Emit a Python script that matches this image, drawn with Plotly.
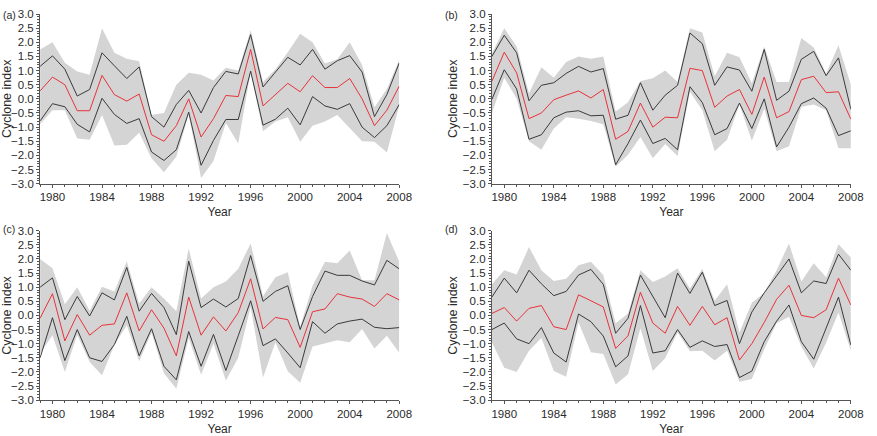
import plotly.graph_objects as go
from plotly.subplots import make_subplots

years = list(range(1979, 2009))

# panel (a)
a_mid = [0.28, 0.77, 0.5, -0.42, -0.42, 0.83, 0.15, -0.08, 0.17, -1.27,
         -1.5, -0.95, 0.0, -1.35, -0.7, 0.12, 0.08, 1.75, -0.25, 0.15,
         0.55, 0.25, 0.82, 0.4, 0.4, 0.72, 0.0, -0.95, -0.4, 0.45]
a_hi = [1.15, 1.52, 1.05, 0.1, 0.33, 1.63, 1.17, 0.72, 1.13, -0.63,
        -1.0, -0.2, 0.3, -0.5, 0.4, 0.97, 0.88, 2.27, 0.42, 0.95,
        1.47, 1.2, 1.75, 1.05, 1.35, 1.53, 0.95, -0.63, 0.15, 1.27]
a_lo = [-0.78, -0.17, -0.28, -0.9, -1.17, 0.02, -0.55, -0.87, -0.7, -1.88,
        -2.18, -1.8, -0.47, -2.35, -1.47, -0.73, -0.73, 0.98, -0.93, -0.72,
        -0.33, -0.92, 0.08, -0.25, -0.37, -0.17, -1.0, -1.37, -0.95, -0.2]
a_band_hi = [1.75, 2.0, 1.28, 0.97, 0.85, 2.5, 1.63, 1.42, 1.33, -0.57,
             -0.5, 0.5, 0.92, 0.85, 0.65, 1.1, 1.0, 2.43, 0.6, 1.05,
             1.65, 2.3, 2.0, 1.25, 1.4, 2.0, 1.2, -0.3, 0.35, 1.38]
a_band_lo = [-0.9, -0.4, -0.4, -1.4, -1.45, -0.57, -1.65, -1.62, -1.2, -2.1,
             -2.6, -2.05, -0.55, -2.8, -2.2, -0.85, -1.58, 0.95, -1.15, -0.8,
             -0.65, -1.52, -0.95, -0.8, -0.57, -1.05, -1.5, -1.52, -1.9, -0.25]

# panel (b)
b_mid = [0.62, 1.65, 0.92, -0.7, -0.5, -0.03, 0.13, 0.28, 0.03, 0.33,
         -1.43, -1.15, -0.15, -1.0, -0.65, -0.67, 1.08, 1.0, -0.3, 0.1,
         0.33, -0.55, 0.77, -0.67, -0.45, 0.68, 0.8, 0.22, 0.25, -0.72]
b_hi = [1.5, 2.25, 1.63, -0.07, 0.48, 0.57, 0.9, 1.15, 0.95, 1.07,
        -0.72, -0.58, 0.57, -0.4, 0.13, 0.48, 2.33, 1.95, 0.48, 1.13,
        1.02, 0.27, 1.75, -0.05, 0.27, 1.4, 1.68, 0.82, 1.45, -0.37]
b_lo = [-0.02, 1.03, 0.35, -1.43, -1.27, -0.67, -0.47, -0.42, -0.6, -0.58,
        -2.33, -1.58, -0.75, -1.58, -1.4, -1.8, 0.43, -0.13, -1.27, -1.05,
        -0.15, -1.05, 0.0, -1.7, -1.0, -0.17, 0.03, -0.33, -1.3, -1.13]
b_band_hi = [1.6, 2.5, 1.85, 0.2, 1.12, 0.75, 1.3, 1.5, 1.42, 1.5,
             -0.45, -0.12, 0.63, 0.73, 1.0, 0.6, 2.5, 2.35, 0.8, 1.63,
             1.47, 0.55, 1.85, 0.6, 0.6, 2.15, 1.82, 0.9, 1.9, 0.5]
b_band_lo = [-0.5, 0.75, 0.0, -1.5, -1.8, -1.05, -0.65, -0.7, -0.78, -0.9,
             -2.4, -1.98, -1.35, -2.1, -1.6, -2.02, 0.25, -0.4, -1.85, -1.45,
             -0.2, -1.48, -0.35, -1.85, -1.68, -0.28, -0.2, -0.4, -1.75, -1.75]

# panel (c)
c_mid = [-0.1, 0.77, -0.9, 0.03, -0.7, -0.35, -0.3, 0.8, -0.55, 0.2,
         -0.45, -1.43, 0.65, -0.7, -0.05, -0.55, 0.1, 1.3, -0.48, -0.07,
         -0.15, -1.13, 0.13, 0.23, 0.77, 0.65, 0.58, 0.32, 0.77, 0.55]
c_hi = [1.0, 1.33, -0.15, 0.67, -0.02, 0.8, 0.55, 1.7, 0.15, 0.78,
        0.28, -0.68, 1.92, 0.28, 0.58, 0.3, 0.6, 2.12, 0.5, 0.85,
        1.05, -0.5, 0.67, 1.57, 1.42, 1.42, 1.22, 1.08, 1.95, 1.65]
c_lo = [-1.5, -0.08, -1.6, -0.5, -1.5, -1.63, -1.03, -0.03, -1.43, -0.47,
        -1.8, -2.28, -0.57, -1.8, -0.67, -1.95, -0.72, 0.52, -1.07, -0.83,
        -1.33, -1.85, -0.22, -0.63, -0.3, -0.2, -0.13, -0.42, -0.47, -0.43]
c_band_hi = [2.0, 1.67, 0.4, 1.0, 0.17, 1.02, 0.85, 1.92, 0.42, 1.0,
             0.6, 0.15, 2.37, 0.6, 1.0, 1.2, 1.65, 2.55, 0.68, 1.35,
             1.53, -0.4, 1.05, 1.9, 1.85, 2.3, 1.25, 1.25, 2.92, 1.9]
c_band_lo = [-1.35, -0.7, -2.0, -0.68, -1.65, -2.12, -1.05, -0.35, -1.62, -0.6,
             -2.05, -2.6, -0.8, -2.1, -1.0, -2.3, -1.5, 0.3, -2.2, -0.95,
             -1.98, -2.38, -1.1, -1.0, -0.88, -0.95, -0.48, -1.17, -0.72, -1.32]

# panel (d)
d_mid = [0.07, 0.28, -0.2, 0.25, 0.35, -0.4, -0.5, 0.73, 0.52, 0.3,
         -1.17, -0.72, 0.82, -0.27, -0.63, 0.32, -0.35, 0.32, -0.33, -0.08,
         -1.58, -1.0, -0.25, 0.57, 1.07, 0.0, -0.08, 0.2, 1.32, 0.37]
d_hi = [0.65, 1.32, 0.8, 1.6, 1.12, 0.7, 0.85, 1.43, 1.63, 1.1,
        -0.63, -0.1, 1.43, 0.67, -0.08, 1.5, 0.78, 1.53, 0.35, 0.53,
        -1.0, 0.12, 0.8, 1.4, 2.0, 0.8, 1.22, 1.13, 2.17, 1.6]
d_lo = [-0.5, -0.27, -0.83, -1.0, -0.43, -1.33, -1.65, 0.05, -0.22, -0.73,
        -1.82, -1.43, 0.35, -1.33, -1.25, -0.5, -1.13, -0.9, -1.1, -1.03,
        -2.2, -1.97, -0.93, -0.2, 0.37, -0.93, -1.55, -0.42, 0.65, -1.05]
d_band_hi = [1.1, 1.6, 1.45, 2.42, 1.6, 1.22, 1.3, 1.78, 1.9, 1.43,
             -0.28, 0.07, 1.6, 1.18, 1.38, 1.67, 0.95, 1.65, 0.52, 1.1,
             -0.6, 0.45, 0.8, 1.6, 2.55, 1.2, 1.85, 1.35, 2.52, 2.05]
d_band_lo = [-0.95, -1.85, -2.0, -1.25, -0.8, -1.97, -2.17, -0.25, -1.3, -1.37,
             -2.45, -2.08, -0.45, -1.97, -1.52, -0.6, -1.27, -1.25, -1.6, -1.25,
             -2.35, -2.25, -1.2, -0.28, -0.05, -1.1, -1.88, -0.97, 0.1, -1.25]

panels = [
    ("(a)", a_mid, a_hi, a_lo, a_band_hi, a_band_lo),
    ("(b)", b_mid, b_hi, b_lo, b_band_hi, b_band_lo),
    ("(c)", c_mid, c_hi, c_lo, c_band_hi, c_band_lo),
    ("(d)", d_mid, d_hi, d_lo, d_band_hi, d_band_lo),
]

fig = make_subplots(rows=2, cols=2)

font = "Liberation Sans, Arial, sans-serif"
txt = "#2b2b2b"

for i, (label, mid, hi, lo, bhi, blo) in enumerate(panels):
    r, c = i // 2 + 1, i % 2 + 1
    # grey envelope
    fig.add_trace(go.Scatter(x=years, y=blo, mode="lines", line=dict(width=0),
                             hoverinfo="skip"), row=r, col=c)
    fig.add_trace(go.Scatter(x=years, y=bhi, mode="lines", line=dict(width=0),
                             fill="tonexty", fillcolor="#d4d4d4",
                             hoverinfo="skip"), row=r, col=c)
    fig.add_trace(go.Scatter(x=years, y=hi, mode="lines",
                             line=dict(color="#3a3a3a", width=1)), row=r, col=c)
    fig.add_trace(go.Scatter(x=years, y=lo, mode="lines",
                             line=dict(color="#3a3a3a", width=1)), row=r, col=c)
    fig.add_trace(go.Scatter(x=years, y=mid, mode="lines",
                             line=dict(color="#e8323a", width=1)), row=r, col=c)

x_domains = [[0.0464, 0.4621], [0.5693, 0.9848]]
y_domains = [[0.581, 0.981], [0.0704, 0.470]]

for i in range(4):
    r, c = i // 2, i % 2
    fig.update_xaxes(
        domain=x_domains[c], range=[1979, 2008],
        tickvals=list(range(1980, 2009, 4)), ticks="outside", ticklen=3,
        minor=dict(dtick=1, tick0=1979, ticks="outside", ticklen=2),
        showline=True, linecolor="#555", linewidth=1, tickcolor="#555",
        showgrid=False, zeroline=False,
        tickfont=dict(size=11.5, color=txt, family=font),
        title=dict(text="Year", standoff=5,
                   font=dict(size=12, color=txt, family=font)),
        row=r + 1, col=c + 1)
    fig.update_yaxes(
        domain=y_domains[r], range=[-3, 3],
        dtick=0.5, tick0=0, tickformat=".1f", ticks="outside", ticklen=3,
        minor=dict(dtick=0.1, ticks="outside", ticklen=2),
        showline=True, linecolor="#555", linewidth=1, tickcolor="#555",
        showgrid=False, zeroline=False,
        tickfont=dict(size=11.5, color=txt, family=font),
        title=dict(text="Cyclone index", standoff=2,
                   font=dict(size=12.5, color=txt, family=font)),
        row=r + 1, col=c + 1)

label_pos = [(0.001, 0.998), (0.513, 0.998), (0.001, 0.492), (0.513, 0.492)]
for (label, *_), (lx, ly) in zip(panels, label_pos):
    fig.add_annotation(text=label, x=lx, y=ly, xref="paper", yref="paper",
                       xanchor="left", yanchor="top", showarrow=False,
                       font=dict(size=10.5, color=txt, family=font))

fig.update_layout(
    width=877, height=436,
    margin=dict(l=0, r=0, t=0, b=0),
    paper_bgcolor="white", plot_bgcolor="white",
    showlegend=False,
)

fig.write_html("out.html", config={"displayModeBar": False},
               post_script="document.body.style.margin='0';")
